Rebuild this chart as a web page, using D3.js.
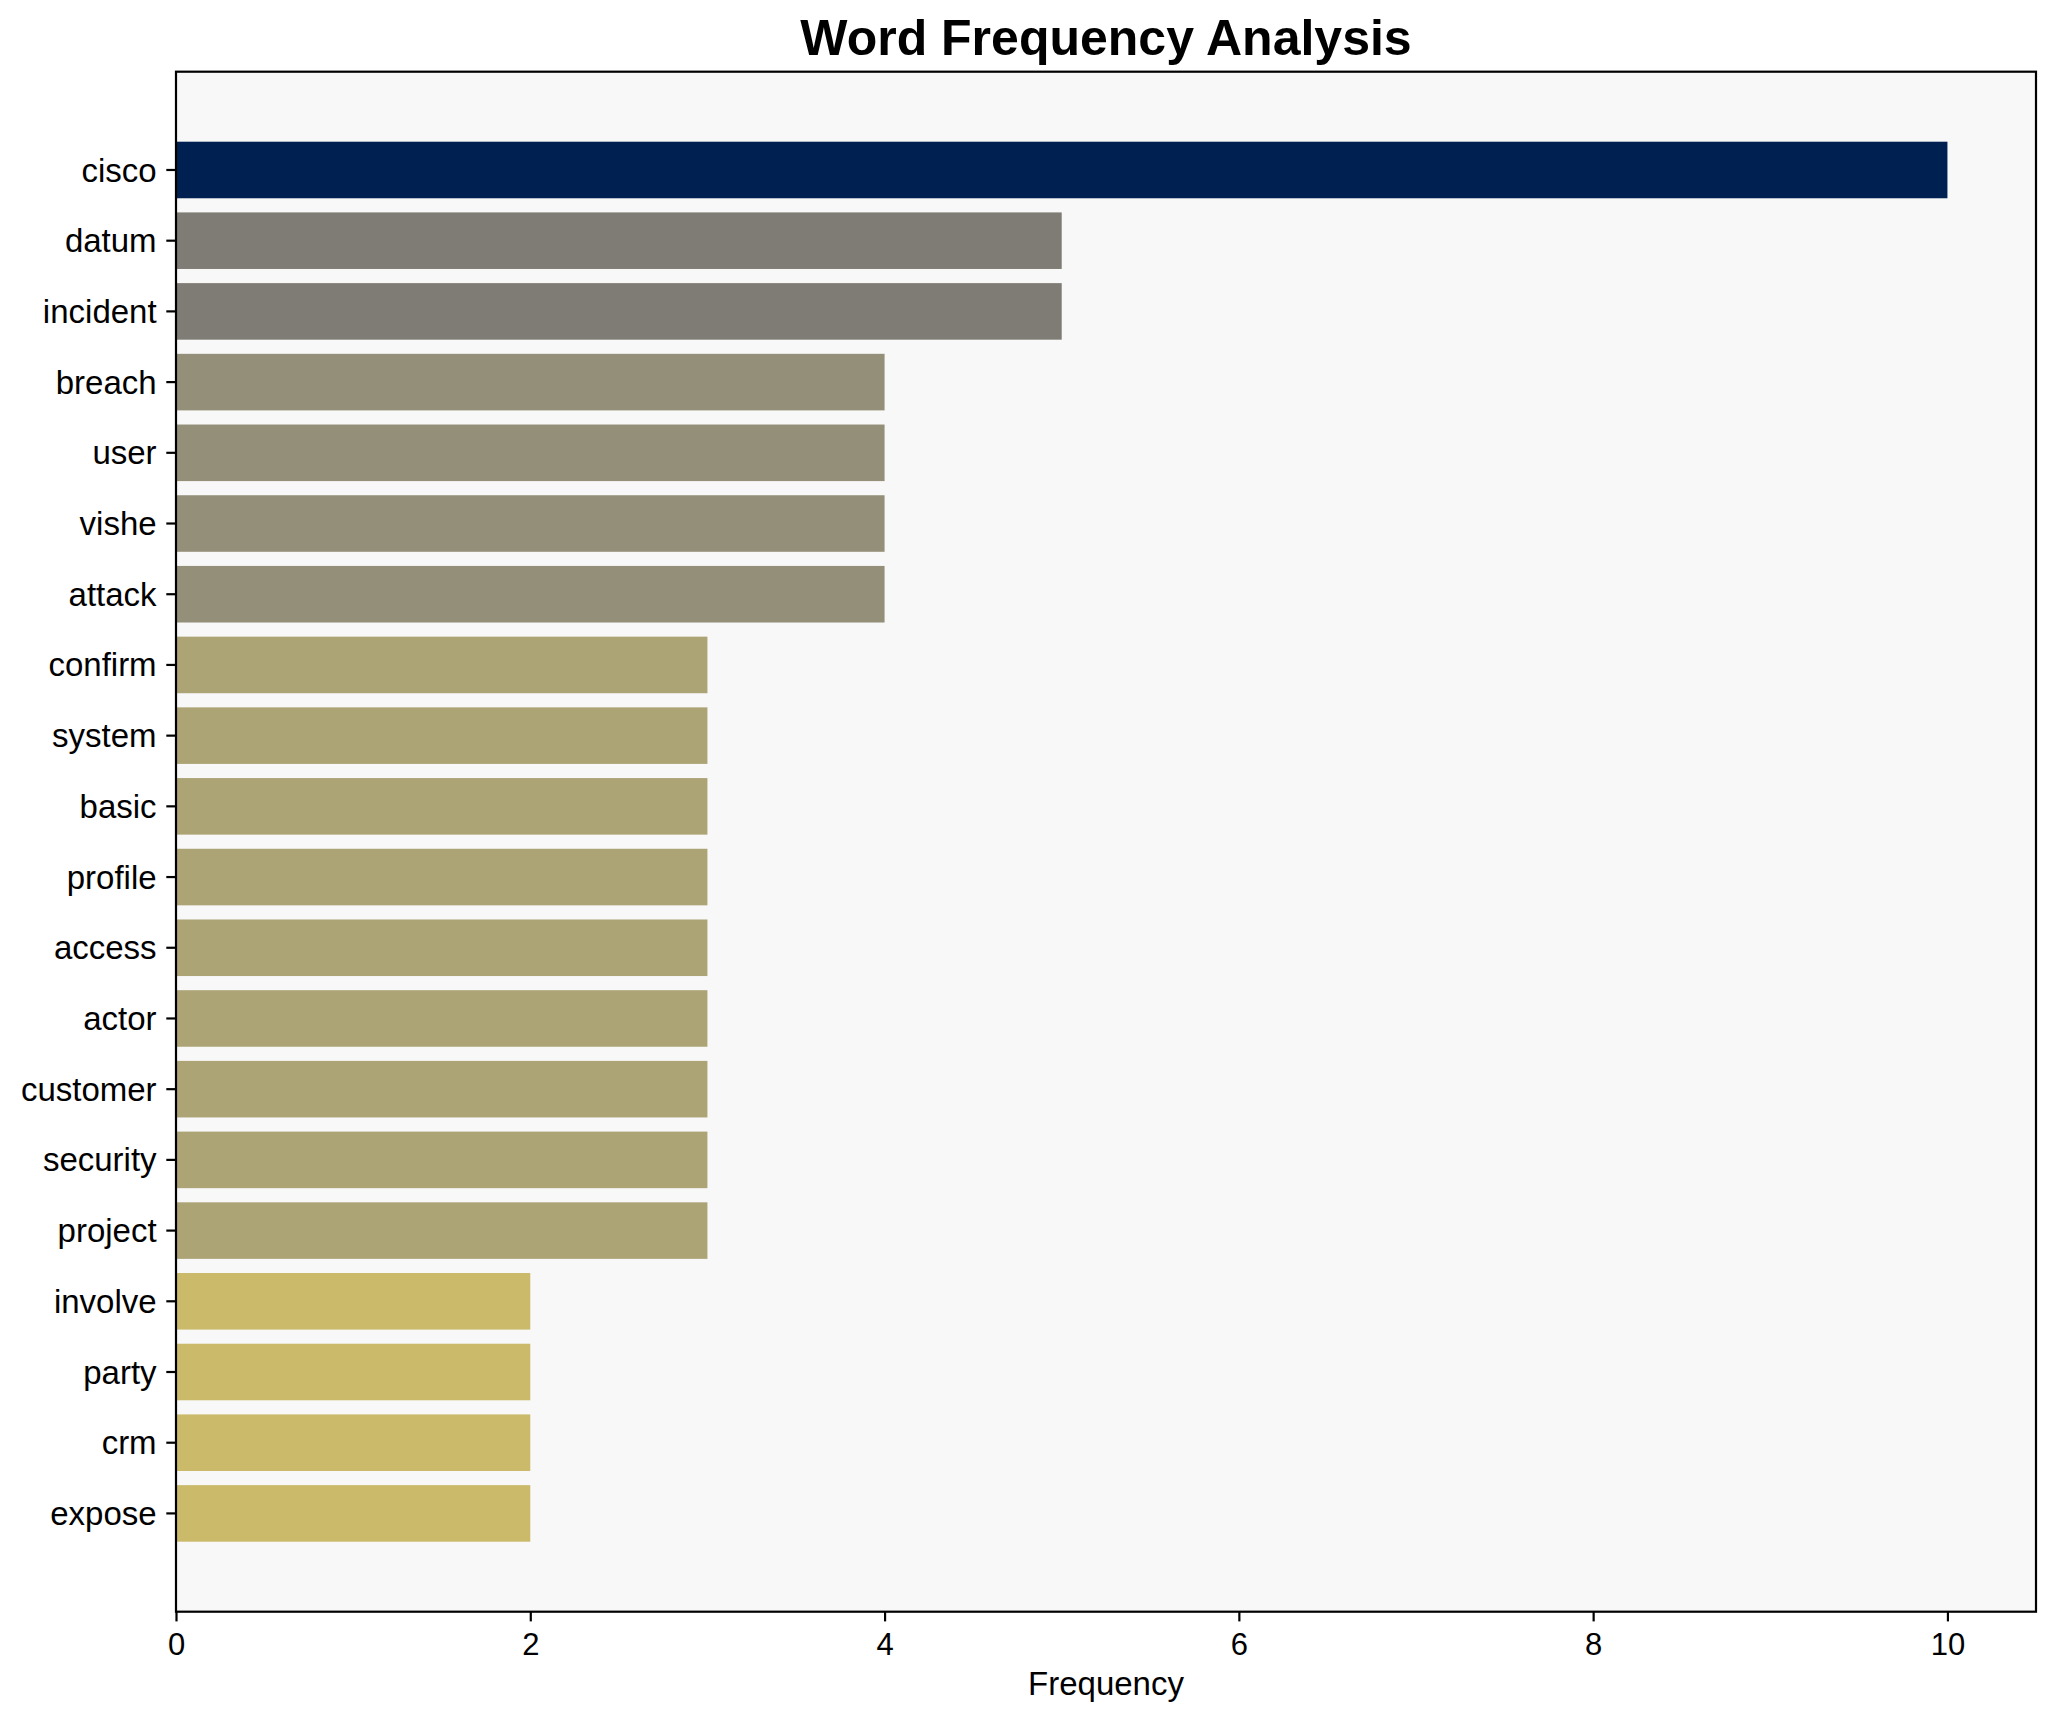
<!DOCTYPE html>
<html>
<head>
<meta charset="utf-8">
<script src="https://cdn.jsdelivr.net/npm/d3@7"></script>
<style>
  html, body { margin: 0; padding: 0; background: #ffffff; }
  text { font-family: "Liberation Sans", Arial, sans-serif; fill: #000; }
</style>
</head>
<body>
<svg id="chart" width="2056" height="1722"></svg>
<script>
// ---- data ----
const words = ["cisco", "datum", "incident", "breach", "user", "vishe", "attack",
  "confirm", "system", "basic", "profile", "access", "actor", "customer",
  "security", "project", "involve", "party", "crm", "expose"];
const frequencies = [10, 5, 5, 4, 4, 4, 4, 3, 3, 3, 3, 3, 3, 3, 3, 3, 2, 2, 2, 2];
const xTicks = [0, 2, 4, 6, 8, 10];
const titleText = "Word Frequency Analysis";
const xLabelText = "Frequency";

// ---- layout ----
const W = 2056, H = 1722;
const plot = { left: 176, right: 2036, top: 71.7, bottom: 1611.7 };

const svg = d3.select("#chart");

const x = d3.scaleLinear().domain([0, 10.5]).range([plot.left, plot.right]);
const y = d3.scaleBand().domain(words).range([plot.top, plot.bottom])
  .paddingInner(0.2).paddingOuter(0.99);
const color = d3.scaleSequential(d3.interpolateCividis).domain([10, 0]);

// background
svg.append("rect")
  .attr("x", plot.left).attr("y", plot.top)
  .attr("width", plot.right - plot.left).attr("height", plot.bottom - plot.top)
  .attr("fill", "#f8f8f8");

// bars
svg.append("g").selectAll("rect").data(words).join("rect")
  .attr("x", x(0))
  .attr("y", d => y(d))
  .attr("width", (d, i) => x(frequencies[i]) - x(0))
  .attr("height", y.bandwidth())
  .attr("fill", (d, i) => color(frequencies[i]));

// x axis
const xAxis = d3.axisBottom(x).tickValues(xTicks).tickSize(9.7).tickPadding(6).tickFormat(d3.format("d"));
const gx = svg.append("g").attr("transform", `translate(0,${plot.bottom})`).call(xAxis);
gx.select(".domain").remove();
gx.selectAll(".tick line").attr("stroke", "#000").attr("stroke-width", 2.2);
gx.selectAll(".tick text").attr("font-size", 31).attr("dy", null).attr("y", 43.3)
  .attr("font-family", "'Liberation Sans', Arial, sans-serif");

// y axis
const yAxis = d3.axisLeft(y).tickSize(9.7).tickPadding(9.7);
const gy = svg.append("g").attr("transform", `translate(${plot.left},0)`).call(yAxis);
gy.select(".domain").remove();
gy.selectAll(".tick line").attr("stroke", "#000").attr("stroke-width", 2.2);
gy.selectAll(".tick text").attr("font-size", 33).attr("dy", "0.35em")
  .attr("font-family", "'Liberation Sans', Arial, sans-serif");

// frame
svg.append("rect")
  .attr("x", plot.left).attr("y", plot.top)
  .attr("width", plot.right - plot.left).attr("height", plot.bottom - plot.top)
  .attr("fill", "none").attr("stroke", "#000").attr("stroke-width", 2.2);

// title
svg.append("text")
  .attr("x", (plot.left + plot.right) / 2).attr("y", 55)
  .attr("text-anchor", "middle").attr("font-size", 50).attr("font-weight", "bold")
  .text(titleText);

// x label
svg.append("text")
  .attr("x", (plot.left + plot.right) / 2).attr("y", 1695)
  .attr("text-anchor", "middle").attr("font-size", 33)
  .text(xLabelText);
</script>
</body>
</html>
